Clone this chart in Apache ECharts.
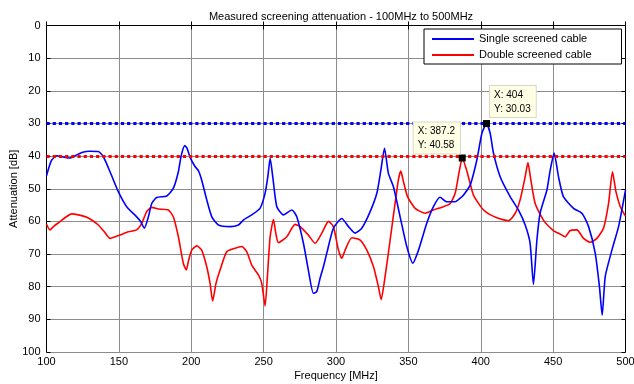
<!DOCTYPE html>
<html>
<head>
<meta charset="utf-8">
<script src="https://cdn.jsdelivr.net/npm/echarts@6/dist/echarts.min.js"></script>
<style>
  html, body { margin: 0; padding: 0; background: #fff; }
  #chart { width: 634px; height: 384px; }
</style>
</head>
<body>
<div id="chart"></div>
<script>
// values
const singleFreq = [100, 102, 103.6, 107, 111, 116, 120, 125, 130, 135.8, 139.3, 143.9, 149.6, 155.4, 162.3, 165, 167.6, 170.4, 172.7, 176.1, 183.1, 187.6, 191.1, 193, 195.5, 197, 199.2, 202.6, 205, 207.2, 210.7, 214.2, 218.8, 226.8, 232.6, 236, 241.8, 247.5, 251, 252.9, 254.5, 256.3, 259.1, 263.7, 269.5, 272.9, 277.5, 280.9, 284.4, 286.7, 289, 291.3, 293.6, 298.2, 304, 308.6, 313.2, 317.8, 323.6, 328.2, 331, 333.5, 336.2, 339.7, 344.3, 348.9, 353.1, 357, 362.7, 367.3, 371.9, 376.6, 382.3, 385.8, 388, 392.7, 397.3, 400.8, 404, 406.5, 408.8, 413.4, 420.3, 426, 430.7, 434.1, 436.4, 438.8, 441, 445.7, 448, 450.7, 453.7, 457.1, 464.1, 469.9, 474.5, 479.1, 482, 483.9, 486, 490.6, 495.2, 500];
const singleAtt = [46, 43, 41.2, 39.9, 40.2, 40.6, 39.8, 38.8, 38.5, 38.6, 40.2, 44.8, 50.9, 55.5, 58.6, 60, 62.1, 58.6, 54.5, 52.7, 52.2, 49.9, 44.8, 40, 36.8, 37.5, 40.4, 43.2, 44.5, 47.3, 53.4, 58.6, 61.1, 61.6, 61.1, 59.6, 58, 56, 51.4, 46.3, 40.7, 46.3, 55.5, 58, 56.5, 58.6, 66.7, 74.9, 82, 81.5, 77.4, 73.9, 69.8, 62.1, 59.1, 61.6, 63.6, 62.1, 57, 51.4, 44.3, 37.6, 45.3, 49.4, 58.6, 67.7, 72.8, 68.8, 60.6, 55.5, 52.6, 54, 54, 52.9, 52, 48.9, 41.2, 33, 30.03, 33, 39.1, 46.3, 52.4, 56.5, 61.1, 66.7, 79.3, 65.7, 57.5, 50.4, 44.3, 39.1, 46.3, 52.4, 56, 57.5, 61.6, 69.8, 80, 88.7, 76.9, 68.8, 61.6, 50.4];

const doubleFreq = [100, 102.3, 105, 109.3, 113, 117.4, 122, 127.8, 132, 135.8, 140, 143.9, 147, 150.8, 156.5, 162.3, 165.8, 169.2, 172.7, 177.3, 184.2, 187.6, 191.1, 194.5, 196.6, 198, 200.3, 203.8, 207.2, 210.7, 213, 214.8, 217.1, 219.9, 224.5, 230.3, 234.9, 238.4, 241.8, 246.4, 248.7, 251, 252.6, 254.5, 256.8, 258.4, 260.2, 266, 271.7, 275.2, 280.9, 285.6, 290.2, 294.8, 298.2, 301.7, 304, 306.3, 310.9, 316.7, 321.3, 325.9, 329.3, 331.2, 333.9, 337.4, 340.8, 343.1, 344.8, 346.6, 349.4, 354.7, 361.6, 367.3, 374.2, 378.9, 382.3, 385.3, 387.2, 389.9, 392.7, 395, 401.9, 411.1, 419.1, 423.8, 427.2, 430.7, 432.6, 434.6, 437.6, 443.3, 450.2, 454.9, 458.3, 461.8, 466.4, 471, 475.6, 480.2, 484.8, 488.3, 491, 493.4, 496.4, 500];
const doubleAtt = [60.8, 62.6, 61.5, 60.1, 58.8, 57.7, 58, 58.7, 59.8, 61.1, 63.2, 65.2, 64.8, 64.2, 63.2, 62.6, 60.6, 57, 55.7, 56.2, 56.5, 58.6, 64.7, 72.8, 74.9, 72.3, 68.8, 67.5, 68.8, 73.9, 79, 84.4, 79, 74.9, 69.3, 68.2, 67.7, 69.3, 73.4, 76.4, 79, 85.9, 76.9, 64.7, 59.4, 63.6, 66.5, 64.7, 60.9, 61.6, 64.2, 66.7, 63.6, 60, 61.6, 68.8, 71.3, 68.8, 65, 65.7, 68.8, 73.9, 80, 83.9, 76.9, 65.7, 54.5, 47.3, 44.6, 47.8, 52.4, 56, 57.5, 56.5, 55.5, 54.5, 51.4, 44.3, 40.58, 43.8, 48.4, 52, 56.5, 58.9, 59.8, 57.5, 53.4, 46.3, 42, 47.3, 54.5, 59.6, 62.8, 63.9, 64.7, 62.8, 62.6, 65.2, 66.4, 65.2, 62.1, 54.5, 44.8, 50.9, 55.5, 58.4];

const seriesNames = ["Single screened cable", "Double screened cable"];
const limitLevels = [30, 40];          // dotted limit lines
const dataTips = [[404, 30.03], [387.2, 40.58]];

const FONT = "'Liberation Sans', Arial, sans-serif";

const zip = (xs, ys) => xs.map((x, i) => [x, ys[i]]);

const chart = echarts.init(document.getElementById("chart"));

const hiddenAxis = {
  axisLine: { show: true, lineStyle: { color: "#000", width: 1 } },
  axisTick: { show: true, inside: true, length: 4, lineStyle: { color: "#000" } },
  axisLabel: { show: false },
  splitLine: { show: false },
};

function tip(coord, pos) {
  return {
    coord,
    symbol: "rect",
    symbolSize: 7,
    itemStyle: { color: "#000" },
    label: {
      show: true,
      position: pos,
      formatter: `X: ${coord[0]}\nY: ${coord[1]}`,
      color: "#000",
      fontFamily: FONT,
      fontSize: 10,
      lineHeight: 14,
      align: "left",
      verticalAlign: "top",
      backgroundColor: "#ffffe6",
      borderColor: "#d8d8c8",
      borderWidth: 1,
      padding: [2, 5, 1, 4],
    },
  };
}

function limitLine(level, color) {
  return {
    silent: true,
    symbol: "none",
    animation: false,
    label: { show: false },
    lineStyle: { color, width: 3.2, type: [3.2, 3] },
    data: [{ yAxis: level }],
  };
}

chart.setOption({
  animation: false,
  backgroundColor: "#fff",
  title: {
    text: "Measured screening attenuation - 100MHz to 500MHz",
    left: 336,
    textAlign: "center",
    top: 6,
    textStyle: { fontFamily: FONT, fontSize: 11, fontWeight: "normal", color: "#000" },
  },
  legend: {
    data: seriesNames.map((name) => ({ name, icon: "rect" })),
    orient: "vertical",
    left: 424,
    top: 29,
    itemWidth: 42,
    itemHeight: 2,
    itemGap: 4,
    padding: [4, 30, 3, 8],
    backgroundColor: "#fff",
    borderColor: "#000",
    borderWidth: 1,
    borderRadius: 0,
    textStyle: { fontFamily: FONT, fontSize: 11, color: "#000", lineHeight: 12 },
  },
  grid: { left: 46.5, right: 8.5, top: 25.5, bottom: 32, outerBoundsMode: "none", containLabel: false },
  xAxis: [
    {
      type: "value",
      min: 100,
      max: 500,
      interval: 50,
      name: "Frequency [MHz]",
      nameLocation: "middle",
      nameGap: 18,
      nameMoveOverlap: false,
      nameTextStyle: { fontFamily: FONT, fontSize: 11, color: "#000" },
      axisLine: { show: true, lineStyle: { color: "#000", width: 1 } },
      axisTick: { show: true, inside: true, length: 4, lineStyle: { color: "#000" } },
      axisLabel: { fontFamily: FONT, fontSize: 11, color: "#000", margin: 4 },
      splitLine: { show: true, lineStyle: { color: "#8c8c8c", width: 1 } },
    },
    Object.assign({ type: "value", min: 100, max: 500, interval: 50, position: "top" }, hiddenAxis),
  ],
  yAxis: [
    {
      type: "value",
      inverse: true,
      min: 0,
      max: 100,
      interval: 10,
      name: "Attenuation [dB]",
      nameLocation: "middle",
      nameGap: 27,
      nameMoveOverlap: false,
      nameTextStyle: { fontFamily: FONT, fontSize: 11, color: "#000" },
      axisLine: { show: true, lineStyle: { color: "#000", width: 1 } },
      axisTick: { show: true, inside: true, length: 4, lineStyle: { color: "#000" } },
      axisLabel: { fontFamily: FONT, fontSize: 11, color: "#000", margin: 6 },
      splitLine: { show: true, lineStyle: { color: "#8c8c8c", width: 1 } },
    },
    Object.assign({ type: "value", inverse: true, min: 0, max: 100, interval: 10, position: "right" }, hiddenAxis),
  ],
  series: [
    {
      name: seriesNames[0],
      type: "line",
      data: zip(singleFreq, singleAtt),
      color: "#0000ff",
      symbol: "none",
      smooth: 0.2,
      lineStyle: { color: "#0000ff", width: 1.6 },
      z: 3,
      markLine: limitLine(limitLevels[0], "#0000ff"),
      markPoint: { silent: true, data: [tip(dataTips[0], [7, -34])] },
    },
    {
      name: seriesNames[1],
      type: "line",
      data: zip(doubleFreq, doubleAtt),
      color: "#ff0000",
      symbol: "none",
      smooth: 0.2,
      lineStyle: { color: "#ff0000", width: 1.6 },
      z: 2,
      markLine: limitLine(limitLevels[1], "#ff0000"),
      markPoint: { silent: true, data: [tip(dataTips[1], [-45, -32])] },
    },
  ],
});
</script>
</body>
</html>
